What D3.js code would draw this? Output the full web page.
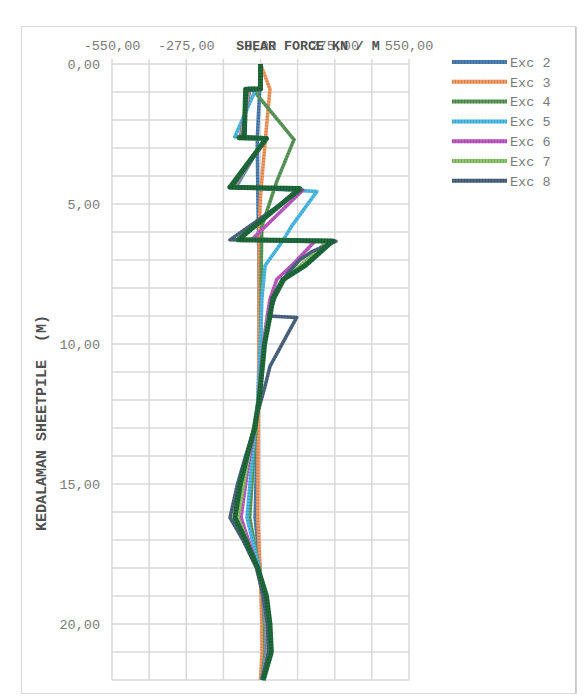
<!DOCTYPE html>
<html>
<head>
<meta charset="utf-8">
<script src="https://cdn.jsdelivr.net/npm/d3@7"></script>
<style>
  body { margin: 0; background: #fff; }
  text { font-family: "Liberation Mono", "DejaVu Sans Mono", monospace; }
</style>
</head>
<body>
<svg></svg>
<script>
// shear force (kN/m) vs depth (m), one list per excavation stage: [depth, shear]
const exc2 = [[0,0],[0.9,-3],[2.7,-12],[4.5,-10],[7,-6],[10,-5],[12,-8],[14,-14],[16.2,-20],[17,-12],[18,-2],[19,5],[20,10],[21,12],[22,3]];
const exc3 = [[0,0],[0.9,35],[2.7,18],[4.7,0],[6,-5],[8,-5],[10,-6],[12,-8],[14,-9],[16.2,-10],[17,-6],[18,-2],[19,2],[20,5],[21,6],[22,0]];
const exc4 = [[0,0],[0.9,3],[0.95,-25],[2.7,124],[4.2,60],[5.8,5],[7,3],[9,2],[10,0],[12,-8],[14,-25],[16.2,-40],[17,-25],[18,-5],[19,8],[20,15],[21,18],[22,5]];
const exc5 = [[0,0],[0.9,0],[0.95,-20],[2.6,-95],[2.65,15],[4.4,-90],[4.55,209],[5.8,115],[6.35,80],[7.2,17],[8.4,5],[10,0],[12,-10],[14,-30],[16.2,-50],[17,-30],[18,-5],[19,10],[20,18],[21,22],[22,5]];
const exc6 = [[0,0],[0.9,0],[0.95,-40],[2.6,-75],[2.65,18],[4.4,-95],[4.5,157],[6.25,-30],[6.35,200],[7.2,115],[7.7,60],[8.4,35],[9,25],[10,10],[11,0],[12,-8],[13,-20],[14,-40],[15,-55],[16.2,-72],[17,-45],[18,-10],[19,10],[20,20],[21,25],[22,5]];
const exc7 = [[0,0],[0.9,0],[0.95,-45],[2.6,-70],[2.65,20],[4.4,-100],[4.5,135],[6.25,-75],[6.35,245],[7,170],[7.7,90],[8.4,50],[9,30],[10,12],[11,2],[12,-8],[13,-25],[14,-45],[15,-62],[16.2,-83],[17,-52],[18,-12],[19,12],[20,22],[21,28],[22,5]];
const exc8 = [[0,0],[0.9,0],[0.95,-50],[2.6,-65],[2.65,22],[4.4,-105],[4.5,150],[6.28,-113],[6.33,280],[6.7,190],[7.0,145],[7.5,98],[8.3,55],[9.0,30],[9.05,134],[10.8,35],[11.5,17],[12.4,-9],[13,-22],[14,-55],[15,-85],[16.2,-113],[17,-65],[18,-15],[19,10],[20,25],[21,30],[22,5]];
// last stage, drawn thick on top (no legend entry in the original)
const exc9 = [[0,0],[0.88,0],[0.9,-55],[2.6,-60],[2.63,-80],[2.66,22],[4.4,-113],[4.45,146],[6.28,-83],[6.32,268],[7.2,165],[7.7,83],[8.36,46],[9,35],[10,15],[11,5],[12,-5],[13,-22],[14,-50],[15,-75],[16.2,-95],[17,-55],[18,-10],[19,22],[20,35],[21,40],[22,10]];

const seriesNames = ["Exc 2", "Exc 3", "Exc 4", "Exc 5", "Exc 6", "Exc 7", "Exc 8"];
const xTicks = [-550, -275, 0, 275, 550];
const yTicks = [0, 5, 10, 15, 20];

const WIDTH = 586;
const HEIGHT = 700;
const colours = ["#4f80b2", "#f59a62", "#5a9a5a", "#4cbde8", "#c05ac4", "#8cc86a", "#4d6680"];

const svg = d3.select('svg').attr('width', WIDTH).attr('height', HEIGHT);

// chart frame
svg.append('rect').attr('x', 21.5).attr('y', 26.5).attr('width', 554).attr('height', 667)
  .attr('fill', '#fff').attr('stroke', '#d9d9d9');
svg.append('line').attr('x1', 576).attr('x2', 576).attr('y1', 27).attr('y2', 694).attr('stroke', '#c4c4c4').attr('stroke-width', 1.5);

const x = d3.scaleLinear().domain([-550, 550]).range([112, 409]);
const y = d3.scaleLinear().domain([0, 22]).range([64, 680]);

const grid = svg.append('g');
grid.selectAll('.v').data(d3.range(-550, 551, 137.5)).join('line')
  .attr('x1', d => x(d)).attr('x2', d => x(d)).attr('y1', y(0) - 5).attr('y2', y(22))
  .attr('stroke', '#d9d9d9').attr('stroke-width', 1.5);
grid.selectAll('.h').data(d3.range(0, 23, 1)).join('line')
  .attr('x1', x(-550)).attr('x2', x(550)).attr('y1', d => y(d)).attr('y2', d => y(d))
  .attr('stroke', '#d9d9d9').attr('stroke-width', 1.5);

const fmt = v => v.toFixed(2).replace('.', ',');

svg.selectAll('.xl').data(xTicks).join('text')
  .attr('x', d => x(d)).attr('y', 50).attr('text-anchor', 'middle')
  .attr('font-size', 13.5).attr('fill', '#7a7a7a').text(fmt);
svg.selectAll('.yl').data(yTicks).join('text')
  .attr('x', 100).attr('y', d => y(d)).attr('dy', '0.35em').attr('text-anchor', 'end')
  .attr('font-size', 13.5).attr('fill', '#7a7a7a').text(fmt);

svg.append('text').attr('x', 308).attr('y', 50).attr('text-anchor', 'middle')
  .attr('font-size', 13.3).attr('font-weight', 'bold').attr('fill', '#505050')
  .text('SHEAR FORCE KN / M');
svg.append('text').attr('transform', 'translate(46,423) rotate(-90)').attr('text-anchor', 'middle')
  .attr('font-size', 15).attr('font-weight', 'bold').attr('fill', '#505050')
  .style('white-space', 'pre').text('KEDALAMAN SHEETPILE  (M)');

const line = d3.line().x(d => x(d[1])).y(d => y(d[0]));

function drawSeries(data, colour, w) {
  svg.append('path').datum(data).attr('d', line).attr('fill', 'none')
    .attr('stroke', colour).attr('stroke-width', w).attr('stroke-linejoin', 'round');
  // dotted texture like the excel markers
  svg.append('path').datum(data).attr('d', line).attr('fill', 'none')
    .attr('stroke', d3.color(colour).darker(1.2)).attr('stroke-width', w)
    .attr('stroke-dasharray', '1,2').attr('stroke-opacity', 0.45).attr('stroke-linejoin', 'round');
}

const allSeries = [exc2, exc3, exc4, exc5, exc6, exc7, exc8];
allSeries.forEach((s, i) => drawSeries(s, colours[i], 3.5));
drawSeries(exc9, "#1f6b3c", 5);

// legend
const legend = svg.append('g');
seriesNames.forEach((name, i) => {
  const ly = 62 + i * 19.8;
  legend.append('line').attr('x1', 452).attr('x2', 507).attr('y1', ly).attr('y2', ly)
    .attr('stroke', colours[i]).attr('stroke-width', 4);
  legend.append('line').attr('x1', 452).attr('x2', 507).attr('y1', ly).attr('y2', ly)
    .attr('stroke', d3.color(colours[i]).darker(1.2)).attr('stroke-width', 4)
    .attr('stroke-dasharray', '1,2').attr('stroke-opacity', 0.45);
  legend.append('text').attr('x', 510).attr('y', ly).attr('dy', '0.35em')
    .attr('font-size', 13.5).attr('fill', '#7a7a7a').text(name);
});
</script>
</body>
</html>
